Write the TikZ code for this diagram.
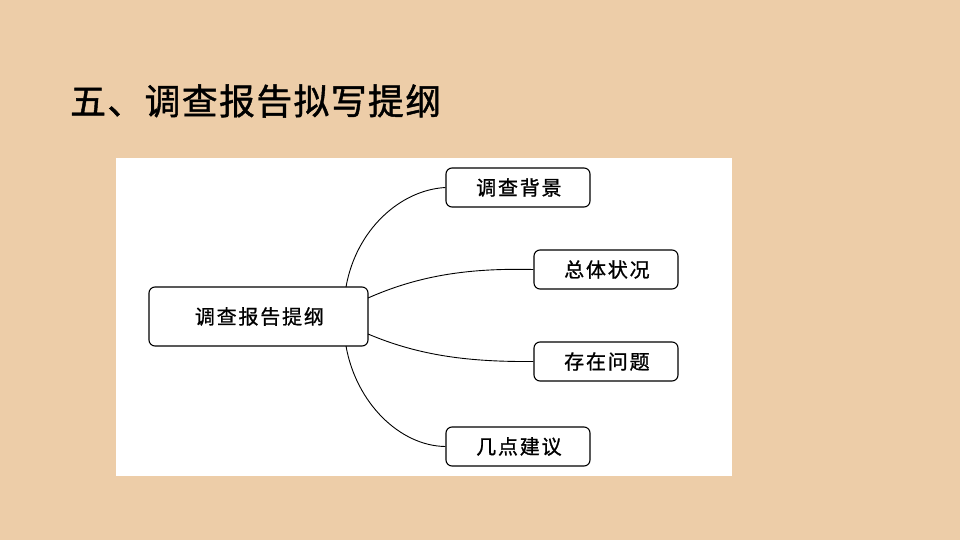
\documentclass[tikz,border=0pt]{standalone}
\usepackage{fontspec}
\newfontfamily\cjk[LetterSpace=9,FakeBold=1]{Noto Sans CJK SC}
\newfontfamily\cjkt[LetterSpace=4,FakeBold=1.2]{Noto Sans CJK SC}
\definecolor{bgc}{RGB}{237,205,168}
\begin{document}
\begin{tikzpicture}[x=1pt,y=-1pt,
  box/.style={draw=black, line width=1.1pt, rounded corners=6pt, fill=white, inner sep=0pt, font=\cjk\fontsize{20}{23}\selectfont},
  link/.style={draw=black, line width=0.9pt}]
\useasboundingbox (0,0) rectangle (960,540);
\fill[bgc] (0,0) rectangle (960,540);
\fill[white] (116,158) rectangle (732,476);
\node[anchor=west, inner sep=0pt, font=\cjkt\fontsize{35.8}{40}\selectfont] (title) at (70,101) {五、调查报告拟写提纲};
\node[box, minimum width=219pt, minimum height=59pt] (root) at (258.5,316.5) {\hspace{1.8pt}调查报告提纲};
\node[box, minimum width=144pt, minimum height=39pt] (b1) at (518,187.5) {\hspace{1.8pt}调查背景};
\node[box, minimum width=144pt, minimum height=39pt] (b2) at (606,269.5) {\hspace{1.8pt}总体状况};
\node[box, minimum width=144pt, minimum height=39pt] (b3) at (606,361.5) {\hspace{1.8pt}存在问题};
\node[box, minimum width=144pt, minimum height=39pt] (b4) at (518,446.5) {\hspace{1.8pt}几点建议};
\coordinate (r1) at (346,287);
\coordinate (r4) at (346,346);
\coordinate (r2) at (368,298);
\coordinate (r3) at (368,334);
\draw[link] (r1) .. controls (356,230) and (400,190) .. (b1.west);
\draw[link] (r2) .. controls (420,275) and (470,268) .. (b2.west);
\draw[link] (r3) .. controls (420,356) and (470,362) .. (b3.west);
\draw[link] (r4) .. controls (356,403) and (400,446) .. (b4.west);
\end{tikzpicture}
\end{document}
